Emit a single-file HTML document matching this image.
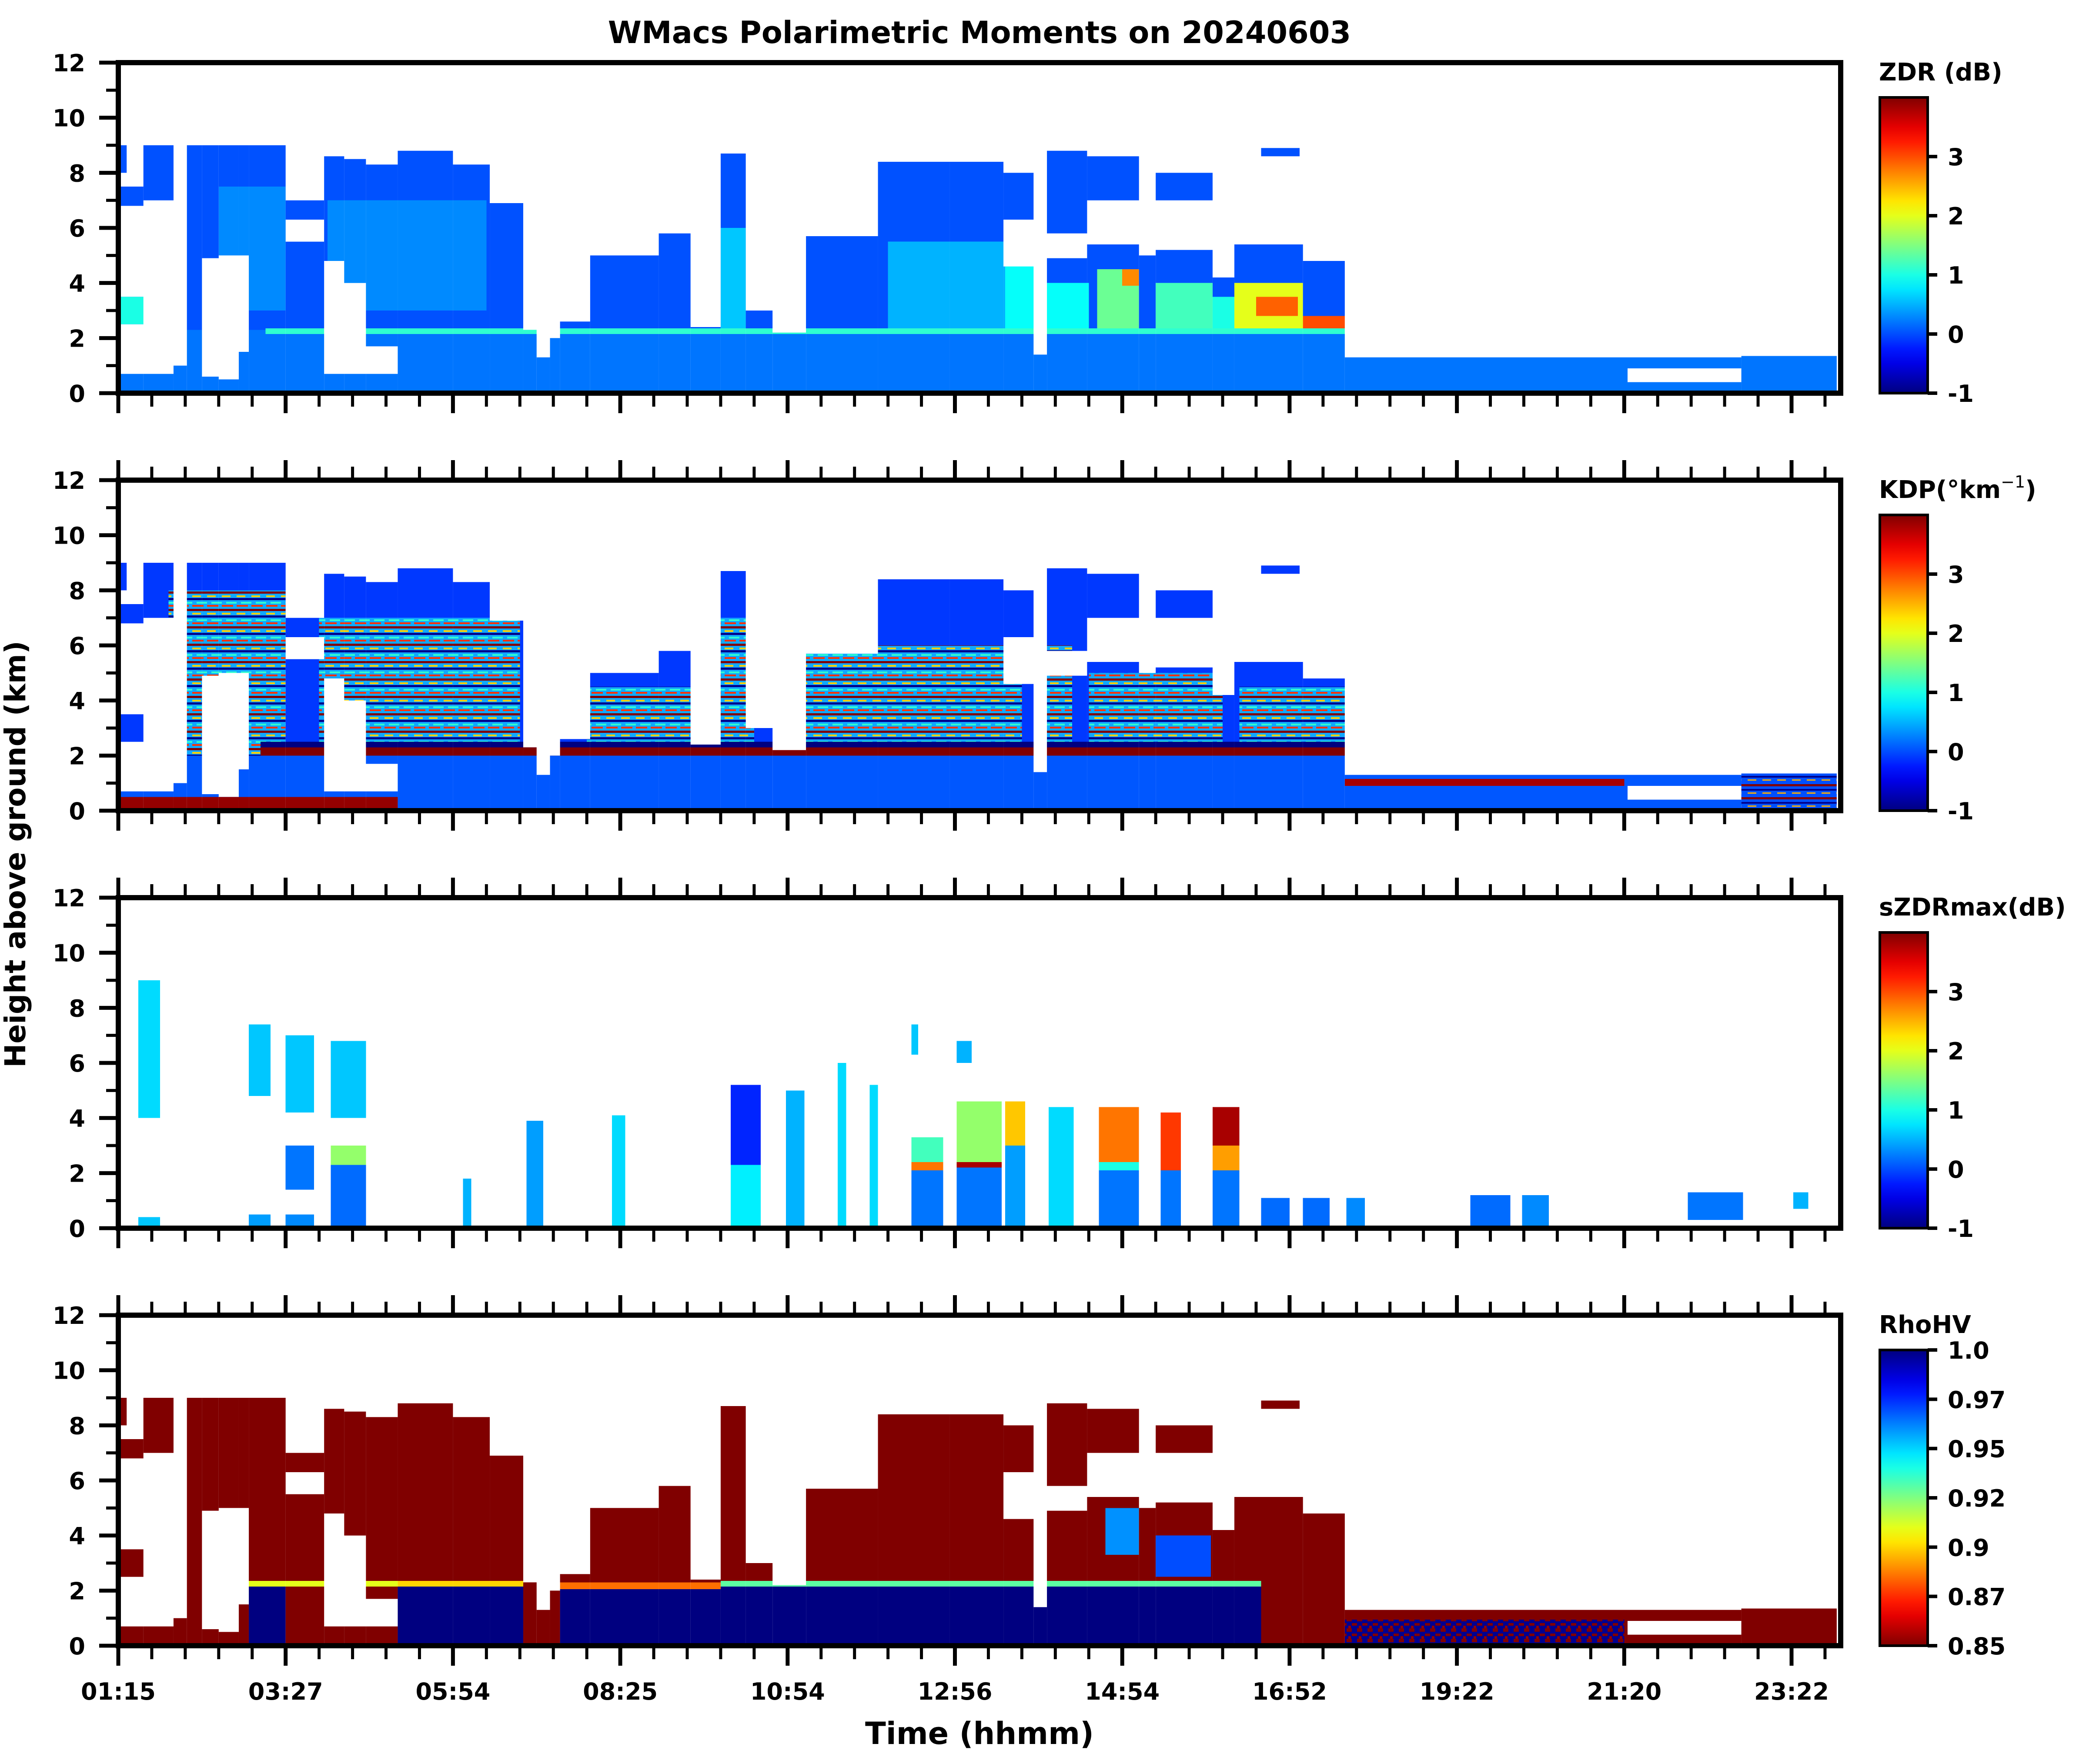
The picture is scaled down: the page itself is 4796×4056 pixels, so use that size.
<!DOCTYPE html>
<html><head><meta charset="utf-8"><title>WMacs Polarimetric Moments</title>
<style>
html,body{margin:0;padding:0;background:#fff;}
svg{display:block;font-family:"DejaVu Sans","Liberation Sans",sans-serif;font-weight:bold;}
</style></head>
<body>
<svg id="fig" width="4796" height="4056" viewBox="0 0 4796 4056" xmlns="http://www.w3.org/2000/svg">
<defs>
<pattern id="kdpTex" width="34" height="40" patternUnits="userSpaceOnUse">
<rect width="34" height="40" fill="#10a8ff"/>
<rect y="0" width="34" height="5" fill="#800000"/>
<rect y="9" width="20" height="4" fill="#ffd000"/>
<rect y="15" width="34" height="5" fill="#00008c"/>
<rect y="24" x="10" width="24" height="4" fill="#30ffd0"/>
<rect y="31" width="26" height="4" fill="#ff3000"/>
</pattern>
<pattern id="kdpTex2" width="34" height="30" patternUnits="userSpaceOnUse">
<rect width="34" height="30" fill="#0050ff"/>
<rect y="3" width="34" height="5" fill="#800000"/>
<rect y="14" width="34" height="4" fill="#00008c"/>
<rect y="22" x="6" width="20" height="3" fill="#ffb000"/>
</pattern>
<pattern id="rhoMix" width="24" height="24" patternUnits="userSpaceOnUse">
<rect width="24" height="24" fill="#000090"/>
<rect x="0" y="0" width="12" height="8" fill="#800000"/>
<rect x="12" y="12" width="12" height="6" fill="#800000"/>
<rect x="4" y="18" width="6" height="6" fill="#900000"/>
</pattern>
</defs>
<g id="root"></g>
</svg>
<script>
// ---------- axis data ----------
const xTickPos = [0,1,2,3,4,5,6,7,8,9,10];
const xTickLabels = ['01:15','03:27','05:54','08:25','10:54','12:56','14:54','16:52','19:22','21:20','23:22'];
const yTicks = [0,2,4,6,8,10,12];
const yMinor = [1,3,5,7,9,11];
const xMax = 10.294;
const cbLabels = ['ZDR (dB)','KDP','sZDRmax(dB)','RhoHV'];
const cbTicksJet = [-1,0,1,2,3];
const cbTicksRho = [0.85,0.875,0.9,0.925,0.95,0.975,1.0];
const cbTicksRhoText = ['0.85','0.87','0.9','0.92','0.95','0.97','1.0'];

// ---------- echo mask shared by ZDR, KDP, RhoHV: [t0,t1,km0,km1] ----------
const echoMask = [
[0.00,0.15,0,0.7],[0.00,0.15,2.5,3.5],[0.00,0.15,6.8,7.5],[0.00,0.05,8.0,9.0],
[0.15,0.33,0,0.7],[0.15,0.33,7.0,9.0],
[0.33,0.41,0,1.0],
[0.41,0.50,0,9.0],
[0.50,0.60,0,0.6],[0.50,0.60,4.9,9.0],
[0.60,0.72,0,0.5],[0.60,0.72,5.0,9.0],
[0.72,0.78,0,1.5],[0.72,0.78,5.0,9.0],
[0.78,1.00,0,9.0],
[1.00,1.23,0,5.5],[1.00,1.23,6.3,7.0],
[1.23,1.35,0,0.7],[1.23,1.35,4.8,8.6],
[1.35,1.48,0,0.7],[1.35,1.48,4.0,8.5],
[1.48,1.67,0,0.7],[1.48,1.67,1.7,8.3],
[1.67,2.00,0,8.8],[2.00,2.22,0,8.3],[2.22,2.42,0,6.9],
[2.42,2.50,0,2.3],[2.50,2.58,0,1.3],[2.58,2.64,0,2.0],
[2.64,2.82,0,2.6],
[2.82,3.23,0,5.0],[3.23,3.42,0,5.8],
[3.42,3.60,0,2.4],
[3.60,3.75,0,8.7],[3.75,3.91,0,3.0],
[3.91,4.11,0,2.2],
[4.11,4.54,0,5.7],
[4.54,4.97,0,8.4],
[4.97,5.29,0,8.4],
[5.29,5.47,0,4.6],[5.29,5.47,6.3,8.0],
[5.47,5.55,0,1.4],
[5.55,5.79,0,4.9],[5.55,5.79,5.8,8.8],
[5.79,6.10,0,5.4],[5.79,6.10,7.0,8.6],
[6.10,6.20,0,5.0],
[6.20,6.54,0,5.2],[6.20,6.54,7.0,8.0],
[6.54,6.67,0,4.2],
[6.67,7.08,0,5.4],[6.83,7.06,8.6,8.9],
[7.08,7.33,0,4.8],
[7.33,9.02,0,1.3],
[9.02,9.70,0,0.4],[9.02,9.70,0.9,1.3],
[9.70,10.27,0,1.35]
];

// ---------- ZDR cells [t0,t1,km0,km1,value] ----------
const zdrCells = [
[0,10.3,2.3,12,0.02],[0,10.3,0,2.3,0.2],
[0.00,0.20,2.5,3.5,1.0],
[0.60,1.00,3.0,7.5,0.3],
[1.25,2.20,3.0,7.0,0.3],
[3.60,3.75,2.3,6.0,0.6],
[4.60,5.30,2.3,5.5,0.5],
[5.30,5.50,2.3,4.6,0.9],
[5.55,5.80,2.3,4.0,0.9],
[5.85,6.10,2.3,4.5,1.4],[6.00,6.10,3.9,4.5,2.7],
[6.20,6.54,2.3,4.0,1.2],
[6.54,6.67,2.3,3.5,1.0],
[6.67,7.08,2.3,4.0,2.0],[6.80,7.05,2.8,3.5,2.9],
[7.08,7.33,2.3,2.8,3.0],
[0.88,7.33,2.15,2.35,1.1]
];

// ---------- KDP cells [t0,t1,km0,km1,value]; value 'tex' = striped texture ----------
const kdpCells = [
[0,10.3,2.3,12,-0.1],[0,10.3,0,2.3,0.05],
[0.30,1.00,2.0,8.0,'tex'],
[1.20,2.40,2.5,7.0,'tex'],
[2.80,3.45,2.5,4.5,'tex'],
[3.55,3.80,2.5,7.0,'tex'],
[4.10,5.40,2.5,6.0,'tex'],
[5.55,5.70,2.5,6.0,'tex'],
[5.80,6.60,2.5,5.0,'tex'],
[6.70,7.33,2.5,4.5,'tex'],
[0.85,7.33,2.3,2.5,-1.0],
[0.85,7.33,2.0,2.3,4.0],
[0,1.67,0,0.5,3.9],
[7.33,9.00,0.9,1.15,3.8],
[9.70,10.27,0,1.35,'tex2']
];

// ---------- RhoHV cells [t0,t1,km0,km1,value]; 'mix' = red/navy speckle ----------
const rhoCells = [
[0,10.3,2.3,12,0.85],[0,10.3,0,2.3,1.0],
[0.00,0.78,0,2.3,0.85],
[1.00,1.67,0,2.3,0.85],
[2.42,2.64,0,2.3,0.85],
[6.83,7.33,0,2.3,0.85],
[7.33,9.00,0.95,1.4,0.85],
[7.33,9.00,0,0.95,'mix'],
[9.00,10.3,0,1.4,0.85],
[5.90,6.10,3.3,5.0,0.96],
[6.20,6.53,2.5,4.0,0.97],
[0.78,1.67,2.15,2.35,0.91],
[1.67,2.42,2.15,2.35,0.90],
[2.64,3.60,2.05,2.30,0.885],
[3.60,6.83,2.15,2.35,0.93]
];

// ---------- sZDRmax cells [t0,t1,km0,km1,value] ----------
const szdrCells = [
[0.12,0.25,4.0,9.0,0.7],[0.12,0.25,0,0.4,0.6],
[0.78,0.91,4.8,7.4,0.6],[0.78,0.91,0,0.5,0.4],
[1.00,1.17,4.2,7.0,0.6],[1.00,1.17,1.4,3.0,0.2],[1.00,1.17,0,0.5,0.3],
[1.27,1.48,0,2.3,0.15],[1.27,1.48,2.3,3.0,1.6],[1.27,1.48,4.0,6.8,0.6],
[2.06,2.11,0,1.8,0.5],
[2.44,2.54,0,3.9,0.4],
[2.95,3.03,0,4.1,0.7],
[3.66,3.84,0,2.3,0.8],[3.66,3.84,2.3,5.2,-0.2],
[3.99,4.10,0,5.0,0.5],
[4.30,4.35,0,6.0,0.7],[4.49,4.54,0,5.2,0.7],
[4.74,4.93,0,2.1,0.2],[4.74,4.93,2.1,2.4,2.8],[4.74,4.93,2.4,3.3,1.2],[4.74,4.78,6.3,7.4,0.6],
[5.01,5.28,0,2.2,0.2],[5.01,5.28,2.2,2.4,3.8],[5.01,5.28,2.4,4.6,1.6],[5.01,5.10,6.0,6.8,0.5],
[5.30,5.42,0,3.0,0.4],[5.30,5.42,3.0,4.6,2.4],
[5.56,5.71,0,4.4,0.7],
[5.86,6.10,0,2.1,0.2],[5.86,6.10,2.1,2.4,1.0],[5.86,6.10,2.4,4.4,2.8],
[6.23,6.35,0,2.1,0.2],[6.23,6.35,2.1,4.2,3.1],
[6.54,6.70,0,2.1,0.2],[6.54,6.70,2.1,3.0,2.6],[6.54,6.70,3.0,4.4,3.8],
[6.83,7.00,0,1.1,0.15],
[7.08,7.24,0,1.1,0.15],
[7.34,7.45,0,1.1,0.3],
[8.08,8.32,0,1.2,0.15],
[8.39,8.55,0,1.2,0.3],
[9.38,9.71,0.3,1.3,0.2],
[10.01,10.10,0.7,1.3,0.5]
];

// ---------- layout ----------
const NS = 'http://www.w3.org/2000/svg';
const root = document.getElementById('root');
const X0 = 272, TICKW = 384.7, X1 = 4232;
const panelTops = [144,1104,2064,3024];
const PH = 760, KM = PH/12;
function xs(t){ return X0 + t*TICKW; }
function ys(p,km){ return panelTops[p] + PH - km*KM; }
function clamp(v){ return Math.max(0,Math.min(1,v)); }
function jet(x){
  x = clamp(x);
  const r = clamp(Math.min(4*x-1.5, -4*x+4.5));
  const g = clamp(Math.min(4*x-0.5, -4*x+3.5));
  const b = clamp(Math.min(4*x+0.5, -4*x+2.5));
  return 'rgb('+Math.round(r*255)+','+Math.round(g*255)+','+Math.round(b*255)+')';
}
function jetVal(v){ return jet((v+1)/5); }
function rhoVal(v){ return jet((1.0-v)/0.15); }
function el(tag, attrs, parent){
  const e = document.createElementNS(NS, tag);
  for (const k in attrs) e.setAttribute(k, attrs[k]);
  (parent||root).appendChild(e);
  return e;
}
function txt(s, x, y, size, anchor, parent, extra){
  const t = el('text', Object.assign({x:x, y:y, 'font-size':size, 'text-anchor':anchor||'start', fill:'#000'}, extra||{}), parent);
  t.textContent = s;
  return t;
}

// title and axis labels
const title = txt('WMacs Polarimetric Moments on 20240603', 2252, 99, 70, 'middle');


const yl = txt('Height above ground (km)', 0, 0, 66, 'middle', root, {transform:'translate(58,1964) rotate(-90)'});


const xl = txt('Time (hhmm)', 2252, 4010, 70, 'middle');



const panelNames = ['zdr','kdp','szdrmax','rhohv'];

function drawCells(p, cells, colorFn, g){
  cells.forEach(function(c){
    let fill;
    if (c[4]==='tex') fill = 'url(#kdpTex)';
    else if (c[4]==='tex2') fill = 'url(#kdpTex2)';
    else if (c[4]==='mix') fill = 'url(#rhoMix)';
    else fill = colorFn(c[4]);
    const x0 = xs(c[0]), x1 = xs(Math.min(c[1], xMax));
    const y1 = ys(p, c[2]), y0 = ys(p, Math.min(c[3],12));
    const r = el('rect', {x:x0, y:y0, width:Math.max(0,x1-x0), height:Math.max(0,y1-y0), fill:fill, 'shape-rendering':'crispEdges'}, g);
    
    
  });
}

for (let p=0; p<4; p++){
  const g = el('g', {});
  
  
  const top = panelTops[p], bot = top+PH;

  // heatmap
  const hm = el('g', {}, g);
  
  
  if (p===2){
    drawCells(p, szdrCells, jetVal, hm);
  } else {
    const cp = el('clipPath', {id:'clip'+p}, g);
    echoMask.forEach(function(m){
      const x0 = xs(m[0]), x1 = xs(Math.min(m[1], xMax));
      el('rect', {x:x0, y:ys(p,m[3]), width:x1-x0, height:ys(p,m[2])-ys(p,m[3])}, cp);
    });
    hm.setAttribute('clip-path', 'url(#clip'+p+')');
    if (p===0) drawCells(p, zdrCells, jetVal, hm);
    if (p===1) drawCells(p, kdpCells, jetVal, hm);
    if (p===3) drawCells(p, rhoCells, rhoVal, hm);
  }

  // spine
  const sp = el('rect', {x:X0, y:top, width:X1-X0, height:PH, fill:'none', stroke:'#000', 'stroke-width':12}, g);
  
  

  // y ticks
  yTicks.forEach(function(v){
    const y = ys(p,v);
    const tk = el('line', {x1:X0-44, x2:X0, y1:y, y2:y, stroke:'#000', 'stroke-width':9}, g);
    
    
    const lb = txt(String(v), 196, y+20, 54, 'end', g);
    
    
  });
  yMinor.forEach(function(v){
    const y = ys(p,v);
    const tk = el('line', {x1:X0-28, x2:X0, y1:y, y2:y, stroke:'#000', 'stroke-width':7}, g);
    
    
  });

  // x ticks (bottom, and top for panels 2-4)
  for (let i=0; i<=51; i++){
    const t = i*0.2;
    if (t > xMax) break;
    const major = (i%5===0);
    const len = major?46:31;
    const x = xs(t);
    const tb = el('line', {x1:x, x2:x, y1:bot, y2:bot+len, stroke:'#000', 'stroke-width':major?9:7}, g);
    
    
    if (p>0){
      const tt = el('line', {x1:x, x2:x, y1:top, y2:top-len, stroke:'#000', 'stroke-width':major?9:7}, g);
      
      
    }
  }

  // colorbar
  const cbx = 4322, cbw = 110, cbt = top+80, cbb = bot;
  const gid = 'cbgrad'+p;
  const lg = el('linearGradient', {id:gid, x1:0, y1:1, x2:0, y2:0}, g);
  for (let s=0; s<=20; s++){
    const f = s/20;
    el('stop', {offset:f, 'stop-color': p===3 ? jet(1-f) : jet(f)}, lg);
  }
  const cb = el('rect', {x:cbx, y:cbt, width:cbw, height:cbb-cbt, fill:'url(#'+gid+')', stroke:'#000', 'stroke-width':6}, g);
  
  
  if (p===1){
    const t = el('text', {x:4320, y:top+41, 'font-size':56, fill:'#000'}, g);
    t.appendChild(document.createTextNode('KDP(°km'));
    const ts = el('tspan', {'font-weight':'normal', 'font-size':38, dy:-24}, t);
    ts.textContent = '\u22121';
    const tc = el('tspan', {dy:24}, t);
    tc.textContent = ')';
    
    
  } else {
    const t = txt(cbLabels[p], 4320, top+41, 56, 'start', g);
    
    
  }
  const ticks = p===3 ? cbTicksRho : cbTicksJet;
  ticks.forEach(function(v, i){
    const f = p===3 ? (v-0.85)/0.15 : (v+1)/5;
    const y = cbb - f*(cbb-cbt);
    const tk = el('line', {x1:cbx+cbw, x2:cbx+cbw+22, y1:y, y2:y, stroke:'#000', 'stroke-width':8}, g);
    
    
    const lb = txt(p===3 ? cbTicksRhoText[i] : String(v), 4478, y+20, 54, 'start', g);
    
    
  });
}

// x tick labels (bottom panel)
xTickPos.forEach(function(t, i){
  const lb = txt(xTickLabels[i], xs(t), 3908, 54, 'middle');
  
  
});
</script>
</body></html>
